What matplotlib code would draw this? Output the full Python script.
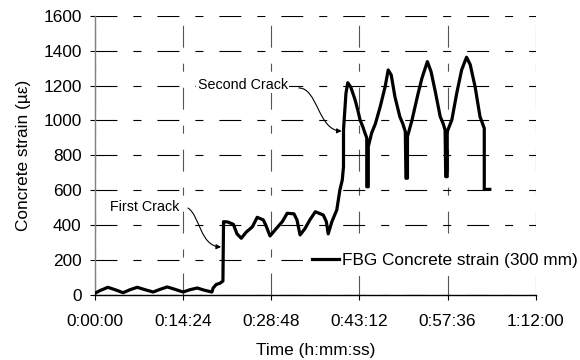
import matplotlib
matplotlib.use('Agg')
import matplotlib.pyplot as plt
from matplotlib.path import Path
from matplotlib.patches import FancyArrowPatch

# time in minutes, FBG concrete strain in microstrain
time_min = [0.0, 0.8, 2.1, 3.3, 4.6, 5.7, 6.9, 8.2, 9.5, 10.6, 11.8, 13.1, 14.4,
            15.5, 16.7, 17.8, 19.1, 19.3, 19.8, 20.4, 20.9, 21.0, 21.7, 22.6,
            23.2, 23.9, 24.7, 25.7, 26.5, 27.5, 27.9, 28.6, 29.6, 30.6, 31.4,
            32.5, 33.0, 33.5, 34.3, 35.1, 36.0, 37.3, 37.8, 38.1, 38.7, 39.5,
            40.0, 40.4, 40.6, 40.6, 41.0, 41.3, 41.8, 42.5, 43.0, 43.3, 43.8,
            44.1, 44.4, 44.4, 44.65, 44.65, 45.2, 45.8, 46.6, 47.4, 47.9, 48.4,
            49.0, 49.8, 50.3, 50.7, 50.8, 51.05, 51.05, 51.8, 52.3, 52.8, 53.4,
            54.3, 54.9, 55.6, 56.4, 56.9, 57.2, 57.3, 57.55, 57.55, 58.3, 59.1,
            59.9, 60.7, 61.3, 62.1, 62.9, 63.6, 63.6, 64.5]
strain = [10, 25, 44, 30, 13, 30, 44, 30, 17, 32, 46, 32, 17,
          30, 40, 28, 17, 40, 60, 67, 80, 420, 418, 405,
          350, 325, 360, 390, 445, 430, 400, 338, 380, 420, 468,
          465, 430, 344, 380, 430, 477, 458, 420, 350, 420, 487,
          600, 659, 735, 945, 1155, 1216, 1190, 1117, 1050, 1003, 960,
          928, 900, 620, 620, 850, 928, 980, 1079, 1193, 1289, 1260,
          1136, 1022, 980, 936, 669, 669, 907, 1003, 1080, 1156, 1240,
          1337, 1280, 1165, 1022, 980, 945, 678, 678, 936, 1003, 1156,
          1289, 1362, 1320, 1193, 1022, 955, 605, 605]

x_ticks = [0, 14.4, 28.8, 43.2, 57.6, 72.0]
x_labels = ['0:00:00', '0:14:24', '0:28:48', '0:43:12', '0:57:36', '1:12:00']
y_ticks = [0, 200, 400, 600, 800, 1000, 1200, 1400, 1600]

plt.rcParams['font.family'] = ['Liberation Sans', 'DejaVu Sans']
plt.rcParams['lines.scale_dashes'] = False

fig = plt.figure(figsize=(5.8, 3.6), dpi=100)
ax = fig.add_axes([0.1638, 0.1806, 0.7598, 0.7758])

grid_ls = (0, (15.8, 11.5, 5.8, 11.5))
ax.yaxis.grid(True, color='black', lw=0.8, linestyle=grid_ls)
ax.xaxis.grid(True, color='#555555', lw=0.8, linestyle=grid_ls)
ax.set_axisbelow(True)

ax.plot(time_min, strain, color='black', lw=2.3, solid_joinstyle='round',
        label='FBG Concrete strain (300 mm)', zorder=3)

ax.set_xlim(0, 72)
ax.set_ylim(0, 1600)
ax.set_xticks(x_ticks)
ax.set_xticklabels(x_labels)
ax.set_yticks(y_ticks)

for s in ['top', 'right']:
    ax.spines[s].set_visible(False)
ax.spines['left'].set_color('#808080')
ax.spines['bottom'].set_color('black')
ax.spines['left'].set_linewidth(1.0)
ax.spines['bottom'].set_linewidth(1.0)
ax.tick_params(axis='both', direction='out', length=3.6, width=0.8,
               labelsize=12.4, colors='black')
ax.tick_params(axis='y', pad=6)
ax.tick_params(axis='x', pad=10)

ax.set_xlabel('Time (h:mm:ss)', fontsize=12.4, labelpad=10)
ax.set_ylabel('Concrete strain (\u00b5\u03b5)', fontsize=12.4, labelpad=9)

# crack annotations
ax.text(2.4, 504, 'First Crack', fontsize=10.3, ha='left', va='center',
        bbox=dict(facecolor='white', edgecolor='none', pad=1), zorder=4)
ax.text(16.8, 1203, 'Second Crack', fontsize=10.3, ha='left', va='center',
        bbox=dict(facecolor='white', edgecolor='none', pad=1), zorder=4)

curve = [Path.MOVETO, Path.CURVE4, Path.CURVE4, Path.CURVE4]
p1 = Path([(15.2, 498), (17.16, 453), (17.16, 281), (20.6, 275)], curve)
p2 = Path([(33.3, 1186), (36.4, 1186), (36.4, 945), (40.3, 939)], curve)
for p in (p1, p2):
    ax.add_patch(FancyArrowPatch(path=p, arrowstyle='-|>', mutation_scale=7,
                                 lw=0.8, color='black', zorder=5))

leg = ax.legend(loc='center left', bbox_to_anchor=(303 / 580, 1 - 260 / 360),
                bbox_transform=fig.transFigure, borderaxespad=0,
                fontsize=12.4, handlelength=1.57, handletextpad=0.2,
                borderpad=0.5, frameon=True, fancybox=False)
leg.get_frame().set_edgecolor('none')
leg.get_frame().set_facecolor('white')
leg.get_frame().set_alpha(1)

fig.savefig('out.png', dpi=100)
